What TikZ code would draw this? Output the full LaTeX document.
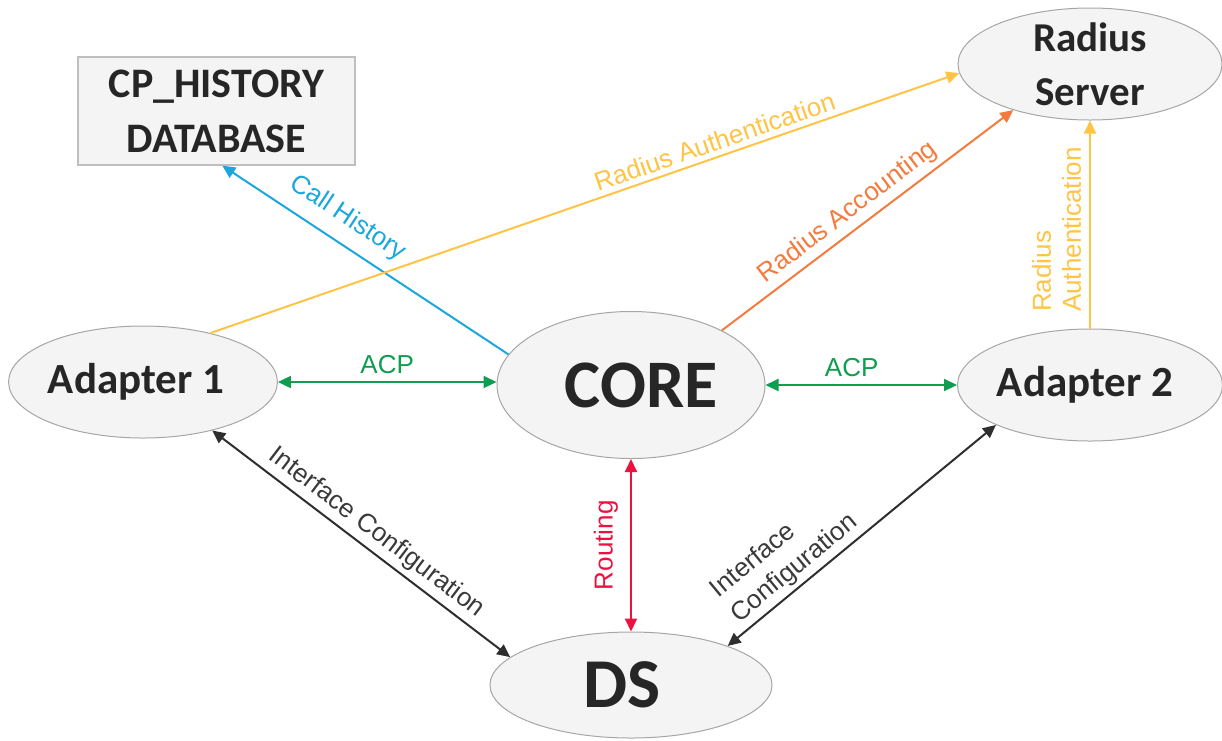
\documentclass[tikz,border=0pt]{standalone}
\usepackage{fontspec}
\setmainfont{Carlito}
\newfontfamily\arialf{Liberation Sans}
\usetikzlibrary{arrows.meta,shapes.geometric}
\definecolor{nodefill}{HTML}{F4F4F4}
\definecolor{nodeedge}{HTML}{A6A6A6}
\definecolor{dbedge}{HTML}{BFBFBF}
\definecolor{nodetext}{HTML}{262626}
\definecolor{cyanc}{HTML}{1CA7DC}
\definecolor{yel}{HTML}{FFC445}
\definecolor{orangec}{HTML}{F47B3E}
\definecolor{greenc}{HTML}{0F9D4F}
\definecolor{redc}{HTML}{EC1240}
\definecolor{darkc}{HTML}{2E2E2E}
\definecolor{darkt}{HTML}{3A3A3A}
\begin{document}
\begin{tikzpicture}[x=1pt,y=-1pt,
  ell/.style={ellipse, draw=nodeedge, fill=nodefill, line width=1pt, inner sep=0pt, text=nodetext},
  dbbox/.style={rectangle, draw=dbedge, fill=nodefill, line width=1.2pt, inner sep=0pt, text=nodetext, align=center},
  conn/.style={line width=2pt},
  tip/.style={-{Triangle[length=13pt,width=12pt]}},
  both/.style={{Triangle[length=13pt,width=12pt]}-{Triangle[length=13pt,width=12pt]}},
  lab/.style={font=\arialf\fontsize{26}{30}\selectfont, sloped, inner sep=3pt}
]
\useasboundingbox (0,0) rectangle (1222,740);

\node[dbbox, minimum width=277pt, minimum height=108pt, font=\bfseries\fontsize{42}{55}\selectfont] (db) at (216.5,111) {CP\_HISTORY\\DATABASE};
\node[ell, minimum width=264pt, minimum height=112pt, inner sep=-3pt, align=center, font=\bfseries\fontsize{41}{54}\selectfont] (rad) at (1090,64) {Radius\\Server};
\node[ell, minimum width=267pt, minimum height=112pt, font=\bfseries\fontsize{43}{52}\selectfont] (ad1) at (143,382) {Adapter 1\hspace*{14pt}};
\node[ell, minimum width=268pt, minimum height=147pt, font=\bfseries\fontsize{68}{80}\selectfont] (core) at (631,385) {\hspace*{20pt}CORE};
\node[ell, minimum width=265pt, minimum height=112pt, font=\bfseries\fontsize{43}{52}\selectfont] (ad2) at (1090,385) {Adapter 2\hspace*{10pt}};
\node[ell, minimum width=282pt, minimum height=106pt, font=\bfseries\fontsize{70}{80}\selectfont] (ds) at (631,685) {DS\hspace*{18pt}};

\draw[conn, cyanc, tip] (core.166) -- node[lab, text=cyanc, pos=0.61, above=9pt]{Call History} (db.-84);
\draw[conn, yel, tip] (ad1.36) -- node[lab, text=yel, pos=0.68, above=2pt]{Radius Authentication} (rad.184);
\draw[conn, orangec, tip] (core.31) -- node[lab, text=orangec, pos=0.47, above=2pt]{Radius Accounting} (rad.211);
\draw[conn, yel, tip] (ad2.north) -- node[lab, text=yel, pos=0.476, above=5pt, align=left]{Radius\\Authentication} (rad.south);
\draw[conn, greenc, both] (ad1.east) -- node[lab, text=greenc, above=4pt]{ACP} (ad1.east -| core.west);
\draw[conn, greenc, both] (core.east) -- node[lab, text=greenc, pos=0.45, above=4pt]{ACP} (ad2.west);
\draw[conn, redc, both] (ds.north) -- node[lab, text=redc, above=9pt]{Routing} (core.south);
\draw[conn, darkc, both] (ad1.-35) -- node[lab, text=darkt, pos=0.515, above=2pt]{Interface Configuration} (ds.167);
\draw[conn, darkc, both] (ds.22) -- node[lab, text=darkt, pos=0.29, above=1pt, align=left, font=\arialf\fontsize{26}{32}\selectfont]{Interface\\Configuration} (ad2.203);
\end{tikzpicture}
\end{document}
